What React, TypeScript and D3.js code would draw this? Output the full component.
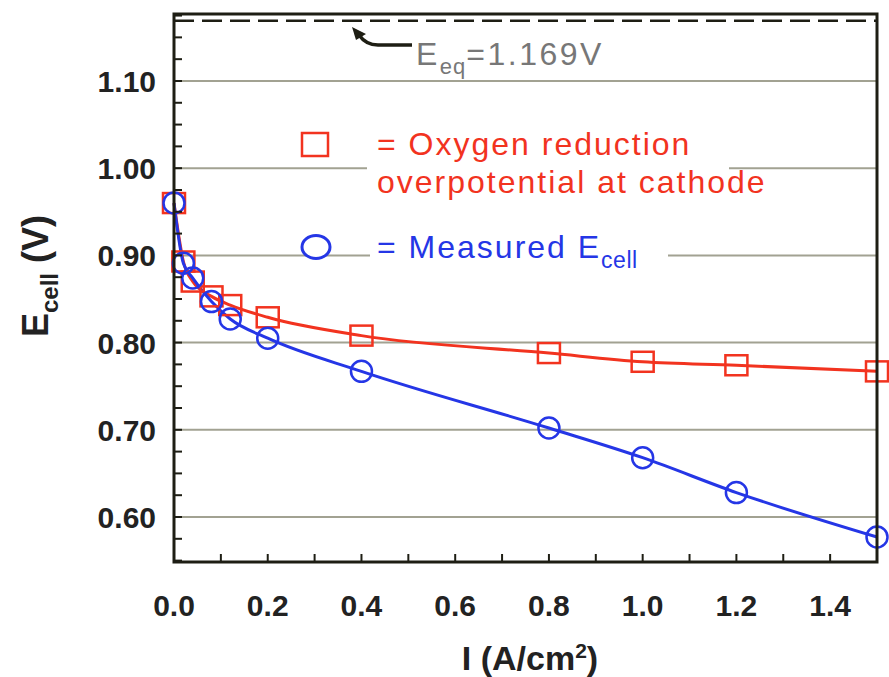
import React from "react";
import * as d3 from "d3";

// current density (A/cm2) of the measured points
const currents = [0, 0.02, 0.04, 0.08, 0.12, 0.2, 0.4, 0.8, 1.0, 1.2, 1.5];
// oxygen reduction overpotential at cathode (V)
const cathodeE = [0.96, 0.893, 0.87, 0.853, 0.843, 0.829, 0.808, 0.788, 0.778, 0.774, 0.767];
// measured cell voltage (V)
const cellE = [0.96, 0.891, 0.874, 0.847, 0.827, 0.805, 0.767, 0.702, 0.668, 0.628, 0.577];

const xTicks = [0, 0.2, 0.4, 0.6, 0.8, 1.0, 1.2, 1.4];
const yTicks = [0.6, 0.7, 0.8, 0.9, 1.0, 1.1];
const eEq = 1.169;

const W = 889;
const H = 677;
const RED = "#f2331f";
const BLUE = "#2536e6";
const GRID = "#a2a292";
const INK = "#1e1e14";

export default function App() {
  const x = d3.scaleLinear().domain([0, 1.5]).range([174, 877]);
  const y = d3.scaleLinear().domain([0.5484, 1.1768]).range([562, 14]);
  const [x0, x1] = x.range();
  const [yb, yt] = y.range();

  const cathode = currents.map((c, i) => ({ c, v: cathodeE[i] }));
  const cell = currents.map((c, i) => ({ c, v: cellE[i] }));

  const line = d3
    .line<{ c: number; v: number }>()
    .x((d) => x(d.c))
    .y((d) => y(d.v))
    .curve(d3.curveMonotoneX);

  const yMinor = d3.range(0.55, 1.176, 0.025);
  const xMinor = d3.range(0.1, 1.45, 0.1);

  const tickFont = { fontFamily: "Liberation Sans, Arial, sans-serif", fontWeight: 700 };
  const legFont = { fontFamily: "Liberation Sans, Arial, sans-serif", fontSize: 32, letterSpacing: 2 };

  return (
    <svg width={W} height={H} style={{ position: "absolute", left: 0, top: 0, background: "#fff" }}>
      {/* gridlines */}
      {yTicks.map((t) => (
        <line key={"g" + t} x1={x0} x2={x1} y1={y(t)} y2={y(t)} stroke={GRID} strokeWidth={2} />
      ))}

      {/* white backing behind legend text */}
      <rect x={367} y={122} width={362} height={80} fill="#fff" />
      <rect x={370} y={232} width={298} height={42} fill="#fff" />

      {/* equilibrium potential */}
      <line x1={x0} x2={x1} y1={y(eEq)} y2={y(eEq)} stroke={INK} strokeWidth={2.5} strokeDasharray="20,8" />
      <path d="M412,45 L378,45 Q366,45 359,35" fill="none" stroke={INK} strokeWidth={3.5} />
      <path d="M352,27 L366,34 L356,40 Z" fill={INK} />
      <text x={416} y={65} fill="#777" fontFamily="Liberation Sans, Arial" fontSize={32} letterSpacing={2.5}>
        E<tspan dy={9} fontSize={22} letterSpacing={1}>eq</tspan>
        <tspan dy={-9}>=1.169V</tspan>
      </text>

      {/* curves */}
      <path d={line(cathode) || ""} fill="none" stroke={RED} strokeWidth={3} />
      <path d={line(cell) || ""} fill="none" stroke={BLUE} strokeWidth={3} />

      {cathode.map((d, i) => (
        <rect
          key={"s" + i}
          x={x(d.c) - 11}
          y={y(d.v) - 10}
          width={22}
          height={20}
          fill="none"
          stroke={RED}
          strokeWidth={2.5}
        />
      ))}
      {cell.map((d, i) => (
        <circle key={"c" + i} cx={x(d.c)} cy={y(d.v)} r={10.5} fill="none" stroke={BLUE} strokeWidth={2.5} />
      ))}

      {/* legend */}
      <rect x={302} y={133} width={26} height={23} fill="none" stroke={RED} strokeWidth={2.5} />
      <text x={377} y={155} fill={RED} style={legFont}>
        = Oxygen reduction
      </text>
      <text x={377} y={193} fill={RED} style={legFont}>
        overpotential at cathode
      </text>
      <ellipse cx={316} cy={247} rx={14} ry={11.5} fill="#fff" stroke={BLUE} strokeWidth={3} />
      <text x={377} y={258} fill={BLUE} style={legFont}>
        = Measured E<tspan dy={10} fontSize={23} letterSpacing={0.5}>cell</tspan>
      </text>

      {/* axis ticks */}
      {yMinor.map((t) => (
        <line key={"ym" + t} x1={x0} x2={x0 + 8} y1={y(t)} y2={y(t)} stroke={INK} strokeWidth={2} />
      ))}
      {xMinor.map((t) => (
        <line key={"xm" + t} x1={x(t)} x2={x(t)} y1={yb} y2={yb - 8} stroke={INK} strokeWidth={2} />
      ))}

      {/* frame */}
      <rect x={x0} y={yt} width={x1 - x0} height={yb - yt} fill="none" stroke={INK} strokeWidth={3} />

      {/* tick labels */}
      {yTicks.map((t) => (
        <text key={"yl" + t} x={156} y={y(t) + 11} textAnchor="end" fontSize={30} fill="#222" style={tickFont}>
          {d3.format(".2f")(t)}
        </text>
      ))}
      {xTicks.map((t) => (
        <text key={"xl" + t} x={x(t)} y={616} textAnchor="middle" fontSize={30} fill="#222" style={tickFont}>
          {d3.format(".1f")(t)}
        </text>
      ))}

      {/* axis titles */}
      <text x={530} y={670} textAnchor="middle" fontSize={34} fill="#222" style={tickFont}>
        I (A/cm<tspan dy={-12} fontSize={21}>2</tspan>
        <tspan dy={12}>)</tspan>
      </text>
      <text
        transform="translate(48,276) rotate(-90)"
        textAnchor="middle"
        fontSize={36}
        fill="#222"
        style={tickFont}
      >
        E<tspan dy={10} fontSize={24}>cell</tspan>
        <tspan dy={-10}> (V)</tspan>
      </text>
    </svg>
  );
}
